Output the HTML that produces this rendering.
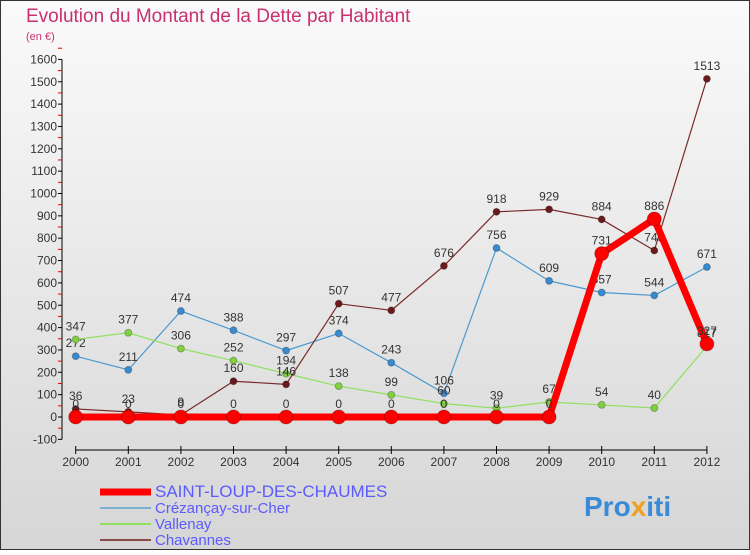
<!DOCTYPE html>
<html><head><meta charset="utf-8"><style>
body{margin:0;width:750px;height:550px;overflow:hidden;font-family:"Liberation Sans",sans-serif}
</style></head><body>
<svg width="750" height="550" xmlns="http://www.w3.org/2000/svg">
<defs><linearGradient id="bg" x1="0" y1="0" x2="0" y2="1"><stop offset="0" stop-color="#fafafa"/><stop offset="1" stop-color="#d6d6d6"/></linearGradient></defs>
<rect x="0.5" y="0.5" width="749" height="549" fill="url(#bg)" stroke="#333"/>
<text x="26" y="22" font-size="19" fill="#c8306e">Evolution du Montant de la Dette par Habitant</text>
<text x="26" y="40" font-size="11" fill="#c8306e">(en €)</text>
<g id="axes"></g><g id="series"></g><g id="legend"></g>
<text x="584" y="516" font-size="28" font-weight="bold" fill="#3a8ad8">Pro<tspan fill="#f0a020">x</tspan>iti</text>
</svg>
<script>
const years=[2000,2001,2002,2003,2004,2005,2006,2007,2008,2009,2010,2011,2012];
const yTicks=[-100,0,100,200,300,400,500,600,700,800,900,1000,1100,1200,1300,1400,1500,1600];
const saint=[0,0,0,0,0,0,0,0,0,0,731,886,327];
const crez=[272,211,474,388,297,374,243,106,756,609,557,544,671];
const vall=[347,377,306,252,194,138,99,60,39,67,54,40,317];
const chav=[36,23,9,160,146,507,477,676,918,929,884,745,1513];
const NS="http://www.w3.org/2000/svg";
const X=i=>75.7+i*52.6, Y=v=>417-v*0.2235;
function mk(t,a,p){const e=document.createElementNS(NS,t);for(const k in a)e.setAttribute(k,a[k]);p.appendChild(e);return e;}
const ax=document.getElementById('axes');
const ya=mk('line',{x1:62,y1:Y(-100),x2:62,y2:Y(1600),stroke:'#000'},ax);


yTicks.forEach(v=>{
 mk('line',{x1:58,y1:Y(v),x2:62,y2:Y(v),stroke:'#000'},ax);
 mk('line',{x1:58,y1:Y(v+50),x2:62,y2:Y(v+50),stroke:'#e00'},ax);
 const t=mk('text',{x:57,y:Y(v)+4,'font-size':12,'text-anchor':'end',fill:'#333'},ax);t.textContent=v;
 
 
});
const xa=mk('line',{x1:X(0),y1:450,x2:X(12),y2:450,stroke:'#000'},ax);


years.forEach((y,i)=>{
 mk('line',{x1:X(i),y1:446,x2:X(i),y2:454,stroke:'#000'},ax);
 const t=mk('text',{x:X(i),y:466,'font-size':12,'text-anchor':'middle',fill:'#333'},ax);t.textContent=y;
 
 
});
const sg=document.getElementById('series');
function series(d,col,w,r,name,dot){
 const g=mk('g',{},sg);
 
 
 mk('polyline',{points:d.map((v,i)=>X(i)+','+Y(v)).join(' '),fill:'none',stroke:col,'stroke-width':w,'stroke-linejoin':'round'},g);
 d.forEach((v,i)=>{
  const c=mk('circle',{cx:X(i),cy:Y(v),r:r,fill:dot,stroke:'rgba(0,0,0,0.25)'},g);
  
  
  const t=mk('text',{x:X(i),y:Y(v)-9,'font-size':12,'text-anchor':'middle',fill:'#333'},g);t.textContent=v;
  
  
 });
}
series(crez,'#4a9ad0',1.2,3.5,'crezancay-series','#3a8ad0');
series(vall,'#90e060',1.2,3.5,'vallenay-series','#80d040');
series(chav,'#7a2a2a',1.2,3.5,'chavannes-series','#6a1a1a');
series(saint,'#ff0000',7,7,'saint-loup-series','#f00');
const lg=document.getElementById('legend');
const items=[['SAINT-LOUP-DES-CHAUMES','#f00',7,15],['Crézançay-sur-Cher','#7ab0d0',2,13],['Vallenay','#90e060',2,13],['Chavannes','#8a4a4a',2,13]];
items.forEach((it,k)=>{
 const y=492+k*16;
 const g=mk('g',{},lg);
 
 
 mk('line',{x1:100,y1:y,x2:151,y2:y,stroke:it[1],'stroke-width':it[2]},g);
 const t=mk('text',{x:155,y:y+5,'font-size':it[3]+2,fill:'#5a5aff'},g);t.textContent=it[0];
});
</script>
</body></html>
